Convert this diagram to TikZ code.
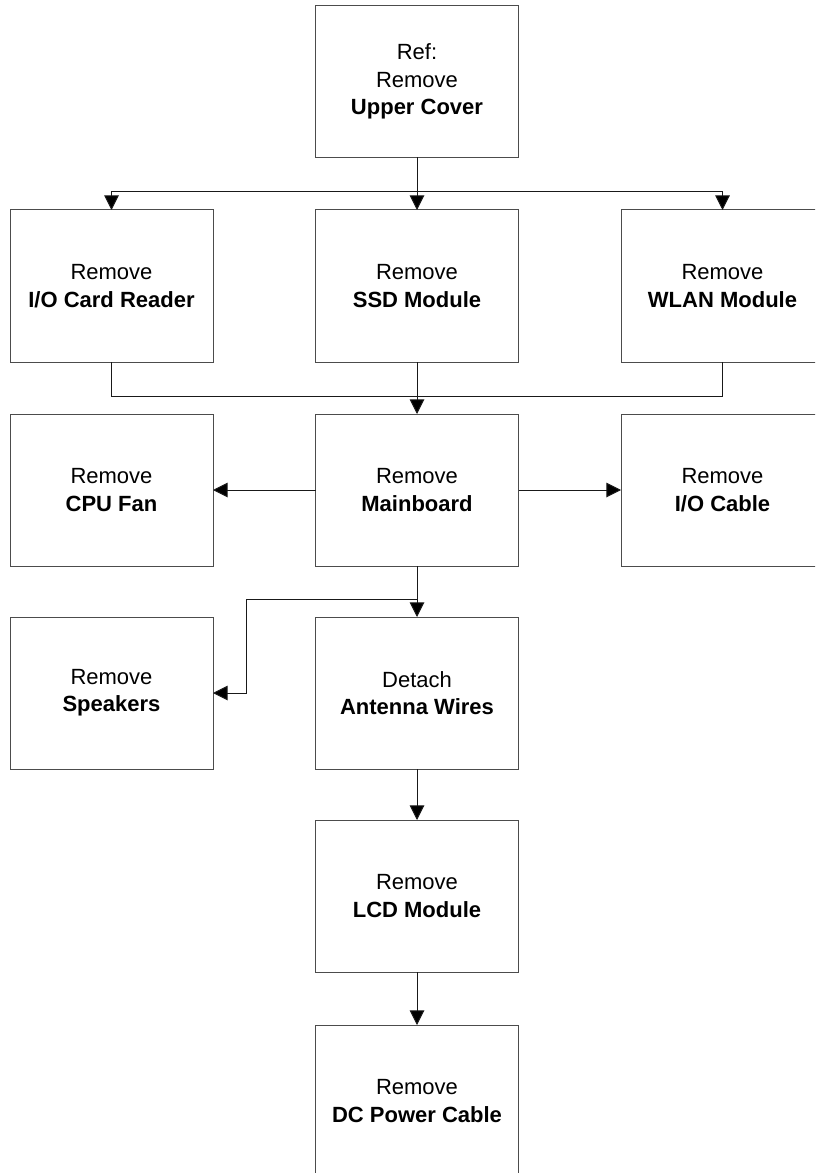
\documentclass[tikz,border=0pt]{standalone}
\usepackage{fontspec}
\setmainfont{Liberation Sans}
\usetikzlibrary{arrows.meta}
\tikzset{
  stepbox/.style={draw=black!70, line width=0.75pt, fill=white, minimum width=152.25pt, minimum height=114pt, inner sep=0pt, outer sep=0pt, align=center, font=\fontsize{16.5}{20.5}\selectfont},
  conn/.style={draw=black!90, line width=0.75pt},
  arr/.style={conn, -{Triangle[width=11pt,length=11pt,fill=black]}}
}
\begin{document}
\begin{tikzpicture}[x=0.75pt,y=-0.75pt]
\useasboundingbox (0,0) rectangle (815,1173);
\clip (0,0) rectangle (815,1173);
\node[stepbox] (top) at (417,81.5) {Ref:\\Remove\\\textbf{Upper Cover}};
\node[stepbox] (io) at (111.5,286) {Remove\\\textbf{I/O Card Reader}};
\node[stepbox] (ssd) at (417,286) {Remove\\\textbf{SSD Module}};
\node[stepbox] (wlan) at (722.5,286) {Remove\\\textbf{WLAN Module}};
\node[stepbox] (fan) at (111.5,490) {Remove\\\textbf{CPU Fan}};
\node[stepbox] (mb) at (417,490) {Remove\\\textbf{Mainboard}};
\node[stepbox] (iocab) at (722.5,490) {Remove\\\textbf{I/O Cable}};
\node[stepbox] (spk) at (111.5,693) {Remove\\\textbf{Speakers}};
\node[stepbox] (ant) at (417,693) {Detach\\\textbf{Antenna Wires}};
\node[stepbox] (lcd) at (417,896) {Remove\\\textbf{LCD Module}};
\node[stepbox] (dc) at (417,1101) {Remove\\\textbf{DC Power Cable}};
\coordinate (j1) at (417,192);
\coordinate (j2) at (417,396);
\coordinate (j3) at (417,599);
\coordinate (j4) at (246,599);
\draw[conn] (top.south) -- (j1);
\draw[arr] (j1) -| (io.north);
\draw[arr] (j1) -- (ssd.north);
\draw[arr] (j1) -| (wlan.north);
\draw[conn] (io.south) |- (j2);
\draw[conn] (wlan.south) |- (j2);
\draw[arr] (ssd.south) -- (mb.north);
\draw[arr] (mb.west) -- (fan.east);
\draw[arr] (mb.east) -- (iocab.west);
\draw[arr] (mb.south) -- (ant.north);
\draw[arr] (j3) -- (j4) |- (spk.east);
\draw[arr] (ant.south) -- (lcd.north);
\draw[arr] (lcd.south) -- (dc.north);
\end{tikzpicture}
\end{document}
